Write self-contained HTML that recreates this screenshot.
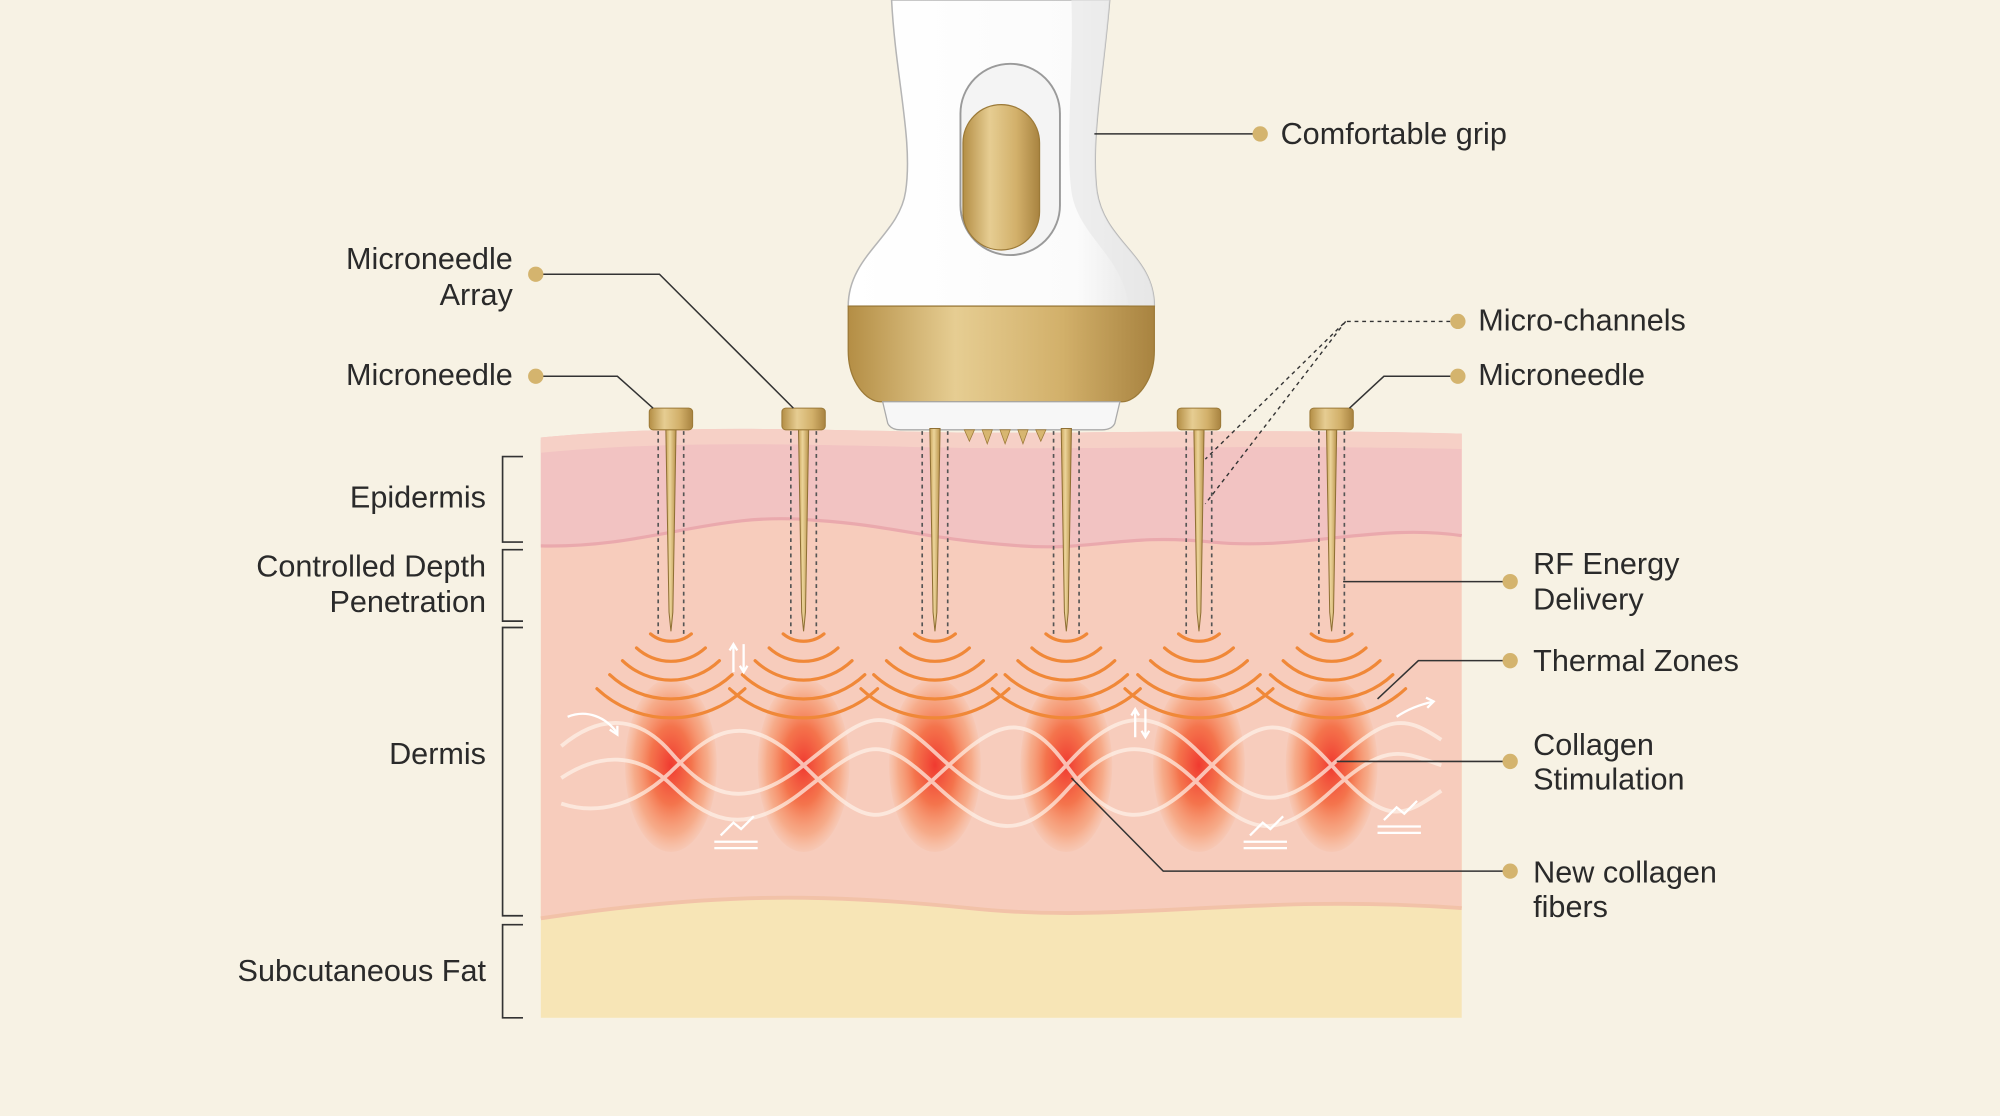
<!DOCTYPE html>
<html><head><meta charset="utf-8"><style>
html,body{margin:0;padding:0;background:#f7f2e4;}
svg{display:block;}
text{font-family:"Liberation Sans",sans-serif;font-size:24px;fill:#2a2a2a;}
</style></head><body>
<svg width="2000" height="1116" viewBox="0 0 1568 875" xmlns="http://www.w3.org/2000/svg">
<defs>
<radialGradient id="zg" cx="50%" cy="50%" r="50%">
<stop offset="0" stop-color="#f03a30"/><stop offset="0.45" stop-color="#f46a40" stop-opacity="0.9"/><stop offset="0.8" stop-color="#f69060" stop-opacity="0.55"/><stop offset="1" stop-color="#f8a070" stop-opacity="0.1"/>
</radialGradient>
<linearGradient id="gold" x1="0" x2="1"><stop offset="0" stop-color="#c9a45a"/><stop offset="0.4" stop-color="#ecd49a"/><stop offset="1" stop-color="#b8924a"/></linearGradient>
<linearGradient id="goldv" x1="0" x2="1"><stop offset="0" stop-color="#b48e45"/><stop offset="0.35" stop-color="#e6cd92"/><stop offset="0.7" stop-color="#d2b06a"/><stop offset="1" stop-color="#a88340"/></linearGradient>
<linearGradient id="body" x1="0" x2="1"><stop offset="0" stop-color="#ffffff"/><stop offset="0.75" stop-color="#fbfbfb"/><stop offset="1" stop-color="#e2e2e2"/></linearGradient>
<g id="zone">
<ellipse cx="0" cy="600" rx="36" ry="68" fill="url(#zg)"/>
<g fill="none" stroke="#f08838" stroke-width="2.5" stroke-linecap="round">
<path d="M-16,497 A25 25 0 0 0 16,497"/>
<path d="M-27,508 A40 40 0 0 0 27,508"/>
<path d="M-38,518 A55 55 0 0 0 38,518"/>
<path d="M-48,529 A70 70 0 0 0 48,529"/>
<path d="M-58,540 A85 85 0 0 0 58,540"/>
</g>
</g>
<g id="needle">
<line x1="-10" y1="338" x2="-10" y2="498" stroke="#555" stroke-width="1.3" stroke-dasharray="3,3"/>
<line x1="10" y1="338" x2="10" y2="498" stroke="#555" stroke-width="1.3" stroke-dasharray="3,3"/>
<polygon points="-4,336 4,336 1.5,480 0,495 -1.5,480" fill="url(#gold)" stroke="#8f7035" stroke-width="0.8"/>
</g>
<g id="cap"><rect x="-17" y="320" width="34" height="17" rx="3" fill="url(#goldv)" stroke="#9c7a38" stroke-width="0.8"/></g>
</defs>

<rect width="1568" height="875" fill="#f7f2e4"/>

<!-- skin -->
<rect x="424" y="560" width="722" height="238" fill="#f7e5b6"/>
<path d="M424,720 C560,700 640,700 760,712 C880,725 980,700 1146,712 L1146,345 L424,345 Z" fill="#f7ccbc"/>
<path d="M424,720 C560,700 640,700 760,712 C880,725 980,700 1146,712" fill="none" stroke="#f2c2a8" stroke-width="3"/>
<path d="M424,343 C520,334 600,336 700,338 C820,342 950,335 1146,340 L1146,420 C1080,410 1020,432 950,425 C880,418 860,432 800,428 C720,422 700,412 640,408 C560,400 510,430 424,428 Z" fill="#f2c3c2"/>
<path d="M424,343 C520,334 600,336 700,338 C820,342 950,335 1146,340 L1146,352 C950,348 820,354 700,350 C600,348 520,346 424,355 Z" fill="#f6d0c6"/>
<path d="M1146,420 C1080,410 1020,432 950,425 C880,418 860,432 800,428 C720,422 700,412 640,408 C560,400 510,430 424,428" fill="none" stroke="#eaa9ad" stroke-width="2.5"/>

<!-- zones -->
<use href="#zone" x="526"/><use href="#zone" x="630"/><use href="#zone" x="733"/>
<use href="#zone" x="836"/><use href="#zone" x="940"/><use href="#zone" x="1044"/>

<!-- collagen fibers -->
<g fill="none" stroke="#fff3ea" stroke-width="3" opacity="0.7">
<path d="M440,585 C470,560 500,560 526,590 S580,640 630,600 S690,550 733,590 S800,640 836,600 S900,550 940,590 S1000,640 1044,600 S1100,560 1130,580"/>
<path d="M440,630 C470,640 500,630 526,605 S580,550 630,600 S690,650 733,610 S800,550 836,600 S900,650 940,610 S1000,550 1044,600 S1100,640 1130,620"/>
<path d="M440,610 C470,590 500,590 526,615 S580,660 630,620 S690,575 733,615 S800,660 836,620 S900,575 940,615 S1000,660 1044,620 S1100,590 1130,600"/>
</g>
<g fill="none" stroke="#fff" stroke-width="1.8">
<path d="M445,562 C460,556 475,562 484,575"/><path d="M478,572 l6,4 l0,-7"/>
<path d="M1095,562 C1105,555 1115,552 1124,550"/><path d="M1118,547 l6,3 l-5,5"/>
<path d="M560,660 h34 M560,665 h34 M565,655 l10,-10 l6,5 l10,-10"/>
<path d="M975,660 h34 M975,665 h34 M980,655 l10,-10 l6,5 l10,-10"/>
<path d="M1080,648 h34 M1080,653 h34 M1085,643 l10,-10 l6,5 l10,-10"/>
<path d="M575,505 v22 M572,510 l3,-5 l3,5 M583,505 v22 M580,522 l3,5 l3,-5"/>
<path d="M890,556 v22 M887,561 l3,-5 l3,5 M898,556 v22 M895,573 l3,5 l3,-5"/>
</g>

<!-- device -->
<path d="M699,0 L870,0 C865,60 855,110 860,150 C866,190 905,200 905,240 L665,240 C665,200 705,185 710,150 C716,110 702,60 699,0 Z" fill="url(#body)" stroke="#b5b5b5" stroke-width="1.2"/>
<path d="M840,0 L870,0 C865,60 855,110 860,150 C866,190 905,200 905,240 L885,240 C880,200 845,185 840,150 C835,110 842,60 840,0Z" fill="#e8e8e8" opacity="0.7"/>
<rect x="753" y="50" width="78" height="150" rx="39" fill="#f4f4f4" stroke="#9a9a9a" stroke-width="1.5"/>
<rect x="755" y="82" width="60" height="114" rx="30" fill="url(#goldv)" stroke="#9c7a38" stroke-width="1"/>
<path d="M665,240 L905,240 L905,275 C905,300 890,315 880,315 L690,315 C680,315 665,300 665,275 Z" fill="url(#goldv)" stroke="#9c7a38" stroke-width="1"/>
<path d="M692,315 L878,315 L874,332 C872,336 868,337 864,337 L706,337 C702,337 698,336 696,332 Z" fill="#f7f7f7" stroke="#aaa" stroke-width="1"/>
<g fill="#d7b670" stroke="#9c7a38" stroke-width="0.6">
<polygon points="756,337 764,337 760,346"/><polygon points="770,337 778,337 774,348"/><polygon points="784,337 792,337 788,348"/><polygon points="798,337 806,337 802,348"/><polygon points="812,337 820,337 816,346"/>
</g>

<!-- needles -->
<use href="#needle" x="526"/><use href="#needle" x="630"/><use href="#needle" x="733"/>
<use href="#needle" x="836"/><use href="#needle" x="940"/><use href="#needle" x="1044"/>
<use href="#cap" x="526"/><use href="#cap" x="630"/><use href="#cap" x="940"/><use href="#cap" x="1044"/>

<!-- brackets -->
<g fill="none" stroke="#333" stroke-width="1.3">
<path d="M410,358 H394 V425 H410"/>
<path d="M410,431 H394 V487 H410"/>
<path d="M410,492 H394 V718 H410"/>
<path d="M410,725 H394 V798 H410"/>
</g>

<!-- leaders -->
<g fill="none" stroke="#333" stroke-width="1.2">
<path d="M858,105 H988"/>
<path d="M420,215 H517 L622,320"/>
<path d="M420,295 H484 L512,320"/>
<path d="M1143,295 H1085 L1058,320"/>
<path d="M1053,456 H1184"/>
<path d="M1080,548 L1112,518 H1184"/>
<path d="M1048,597 H1184"/>
<path d="M840,610 L912,683 H1184"/>
</g>
<g fill="none" stroke="#333" stroke-width="1.1" stroke-dasharray="3,3">
<path d="M1143,252 H1055 L945,360"/>
<path d="M1055,252 L945,395"/>
</g>
<g fill="#d4b46e">
<circle cx="988" cy="105" r="6"/><circle cx="420" cy="215" r="6"/><circle cx="420" cy="295" r="6"/>
<circle cx="1143" cy="252" r="6"/><circle cx="1143" cy="295" r="6"/><circle cx="1184" cy="456" r="6"/>
<circle cx="1184" cy="518" r="6"/><circle cx="1184" cy="597" r="6"/><circle cx="1184" cy="683" r="6"/>
</g>

<!-- labels -->
<text x="1004" y="113">Comfortable grip</text>
<text x="402" y="211" text-anchor="end">Microneedle</text>
<text x="402" y="239" text-anchor="end">Array</text>
<text x="402" y="302" text-anchor="end">Microneedle</text>
<text x="1159" y="259">Micro-channels</text>
<text x="1159" y="302">Microneedle</text>
<text x="381" y="398" text-anchor="end">Epidermis</text>
<text x="381" y="452" text-anchor="end">Controlled Depth</text>
<text x="381" y="480" text-anchor="end">Penetration</text>
<text x="381" y="599" text-anchor="end">Dermis</text>
<text x="381" y="769" text-anchor="end">Subcutaneous Fat</text>
<text x="1202" y="450">RF Energy</text>
<text x="1202" y="478">Delivery</text>
<text x="1202" y="526">Thermal Zones</text>
<text x="1202" y="592">Collagen</text>
<text x="1202" y="619">Stimulation</text>
<text x="1202" y="692">New collagen</text>
<text x="1202" y="719">fibers</text>
</svg>
</body></html>
